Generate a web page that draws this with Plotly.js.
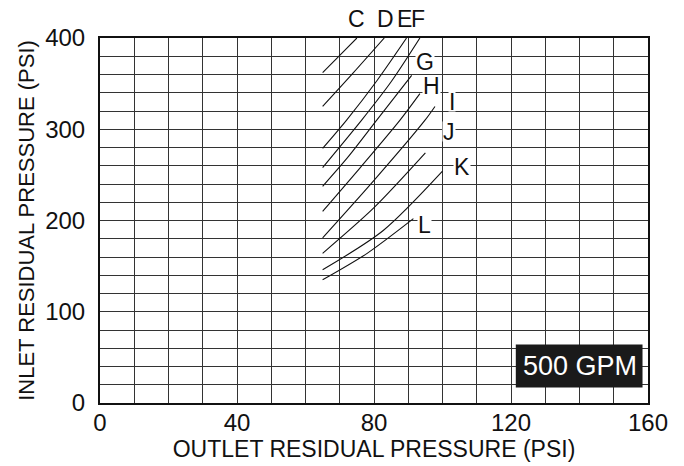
<!DOCTYPE html>
<html>
<head>
<meta charset="utf-8">
<script src="https://cdn.plot.ly/plotly-3.0.1.min.js"></script>
<style>html,body{margin:0;padding:0;background:#fff;}#chart{width:684px;height:466px;}</style>
</head>
<body>
<div id="chart"></div>
<script>
// Curve data (outlet psi -> inlet psi)
var curveNames = ["C","D","E","F","G","H","I","J","K","L"];
var curveX = {
  C: [65, 70, 75],
  D: [65, 74, 83],
  E: [65, 72, 81, 89.5],
  F: [65, 76.4, 85, 93.4],
  G: [65, 72.5, 80.8, 91],
  H: [65, 76, 87.6, 93.4],
  I: [65, 80, 94.9, 97.8],
  J: [65, 80, 95],
  K: [65, 82.7, 100],
  L: [65, 78, 91.5]
};
var curveY = {
  C: [362, 381, 400],
  D: [325, 362, 400],
  E: [279, 310, 354, 400],
  F: [258, 310, 352, 400],
  G: [237.5, 270, 310, 359],
  H: [210, 258, 310, 339],
  I: [181, 244, 310, 325],
  J: [164, 214, 274],
  K: [146, 189, 254],
  L: [135, 164, 202]
};
// Label positions (data units)
var labelX = [75, 83.5, 89, 92.8, 94.9, 96.9, 102.8, 101.9, 105.7, 94.6];
var labelY = [421.6, 421.6, 421.6, 421.6, 374, 348, 330.6, 297.8, 259.4, 195.8];

var xTicks = [0, 40, 80, 120, 160];
var yTicks = [0, 100, 200, 300, 400];
var flowLabel = "500 GPM";

var FONT = "'Liberation Sans', Arial, Helvetica, sans-serif";

var traces = curveNames.map(function(n){
  return {x: curveX[n], y: curveY[n], type: 'scatter', mode: 'lines',
    line: {color: '#111', width: 1.1, shape: 'spline', smoothing: 0.8},
    hoverinfo: 'skip', showlegend: false, cliponaxis: false};
});

var annotations = curveNames.map(function(n, i){
  var above = labelY[i] > 400;
  return {x: labelX[i], y: above ? labelY[i] / 400 : labelY[i], xref: 'x', yref: above ? 'paper' : 'y',
    xanchor: 'center', yanchor: 'middle', height: 19,
    text: n, showarrow: false,
    font: {family: FONT, size: 23, color: '#111'}, bgcolor: above ? 'rgba(0,0,0,0)' : '#fff', borderpad: 0};
});
annotations.push({x: 140, y: 40.5, xref: 'x', yref: 'y', text: flowLabel, showarrow: false,
  xanchor: 'center', yanchor: 'middle',
  font: {family: FONT, size: 27, color: '#fff'}});

var layout = {
  width: 684, height: 466,
  margin: {l: 100, r: 36, t: 37.5, b: 63.3, pad: 0},
  paper_bgcolor: '#fff', plot_bgcolor: '#fff',
  font: {family: FONT, color: '#111'},
  showlegend: false,
  xaxis: {
    range: [0, 160], tickvals: xTicks, ticktext: xTicks.map(String),
    ticks: '', showgrid: true, gridcolor: '#333', gridwidth: 1,
    minor: {dtick: 10, tick0: 0, showgrid: true, gridcolor: '#333', gridwidth: 1},
    showline: true, linecolor: '#111', linewidth: 2, mirror: true,
    zeroline: false, tickfont: {family: FONT, size: 24, color: '#111'},
    ticklabelstandoff: -3,
    title: {text: 'OUTLET RESIDUAL PRESSURE (PSI)', font: {family: FONT, size: 23, color: '#111'}, standoff: 2}
  },
  yaxis: {
    range: [0, 400], tickvals: yTicks, ticktext: yTicks.map(String),
    ticks: '', showgrid: true, gridcolor: '#333', gridwidth: 1,
    minor: {dtick: 20, tick0: 0, showgrid: true, gridcolor: '#333', gridwidth: 1},
    showline: true, linecolor: '#111', linewidth: 2, mirror: true,
    zeroline: false, tickfont: {family: FONT, size: 24, color: '#111'},
    ticklabelstandoff: 8,
    title: {text: 'INLET RESIDUAL PRESSURE (PSI)', font: {family: FONT, size: 22, color: '#111'}, standoff: 4}
  },
  shapes: [{type: 'rect', xref: 'x', yref: 'y', x0: 121.4, x1: 158.4, y0: 16.9, y1: 64,
    fillcolor: '#1a1a1a', line: {width: 0}, layer: 'above'}],
  annotations: annotations
};

Plotly.newPlot('chart', traces, layout, {displayModeBar: false, staticPlot: true});
</script>
</body>
</html>
